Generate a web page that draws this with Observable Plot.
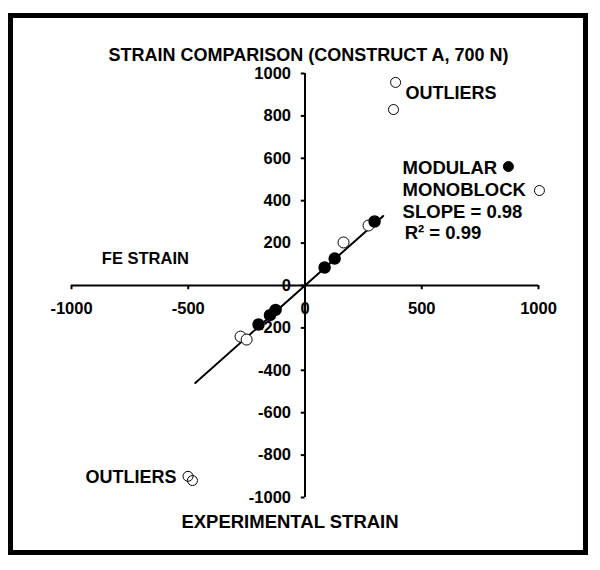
<!DOCTYPE html>
<html>
<head>
<meta charset="utf-8">
<script src="https://cdn.jsdelivr.net/npm/d3@7"></script>
<script src="https://cdn.jsdelivr.net/npm/@observablehq/plot@0.6"></script>
<style>
  html, body { margin: 0; padding: 0; background: white; }
  #wrap { position: relative; width: 600px; height: 570px; }
  #frame { position: absolute; left: 8px; top: 13px; width: 580px; height: 542px; box-sizing: border-box; border: 5px solid #000; pointer-events: none; }
</style>
</head>
<body>
<div id="wrap"><div id="frame"></div></div>
<script>
// ---- data ----
const title = "STRAIN COMPARISON (CONSTRUCT A, 700 N)";
const xLabel = "EXPERIMENTAL STRAIN";
const yLabel = "FE STRAIN";
const xTicks = [-1000, -500, 0, 500, 1000];
const yTicks = [-1000, -800, -600, -400, -200, 0, 200, 400, 600, 800, 1000];

// Modular (filled) points: experimental (x), FE (y)
const modularX = [84, 127, -126, -150, -199, 298];
const modularY = [85, 127, -115, -140, -184, 302];

// Monoblock (open) points
const monoblockX = [165, 272, -276, -250];
const monoblockY = [203, 283, -241, -255];

// Outliers (open)
const outlierX = [388, 379, -501, -482];
const outlierY = [958, 830, -900, -920];

// Trend line end points (slope 0.98)
const fitX = [-470, 335];
const fitY = [-460, 328];

const fitText = ["SLOPE = 0.98", "R\u00B2 = 0.99"];
const seriesNames = ["MODULAR", "MONOBLOCK"];
const outlierName = "OUTLIERS";

// ---- build tables ----
const modular = modularX.map((x, i) => ({x, y: modularY[i]}));
const monoblock = monoblockX.map((x, i) => ({x, y: monoblockY[i]}));
const outliers = outlierX.map((x, i) => ({x, y: outlierY[i]}));
const fit = fitX.map((x, i) => ({x, y: fitY[i]}));

const font = "Liberation Sans, Arial, sans-serif";
const bold = {fontWeight: "bold", fontFamily: font, fill: "#000"};

const legendText = [
  {t: seriesNames[0], x: 418, y: 552},
  {t: seriesNames[1], x: 418, y: 448},
  {t: fitText[0], x: 418, y: 344},
  {t: fitText[1], x: 427, y: 245}
];
const legendMarks = [
  {x: 871, y: 561, filled: true},
  {x: 1004, y: 448, filled: false}
];
const outlierLabels = [
  {t: outlierName, x: 430, y: 906},
  {t: outlierName, x: -940, y: -906}
];

const chart = Plot.plot({
  width: 600,
  height: 570,
  marginLeft: 71,
  marginRight: 62,
  marginTop: 73,
  marginBottom: 73,
  x: {domain: [-1000, 1000], axis: null},
  y: {domain: [-1000, 1000], axis: null},
  style: {fontFamily: font, background: "transparent", overflow: "visible"},
  marks: [
    // axes through origin
    Plot.ruleY([0], {x1: -1000, x2: 1000, stroke: "#000", strokeWidth: 2}),
    Plot.ruleX([0], {y1: -1000, y2: 1000, stroke: "#000", strokeWidth: 2}),
    Plot.ruleX(xTicks, {x: d => d, y1: 0, y2: -20, stroke: "#000", strokeWidth: 2}),
    Plot.ruleY(yTicks, {y: d => d, x1: 0, x2: -16, stroke: "#000", strokeWidth: 2}),
    Plot.text(xTicks, {x: d => d, y: 0, dy: 23, text: d => String(d), fontSize: 16.5, ...bold}),
    Plot.text(yTicks, {x: 0, y: d => d, dx: -14, textAnchor: "end", text: d => String(d), fontSize: 16.5, ...bold}),
    // trend line
    Plot.line(fit, {x: "x", y: "y", stroke: "#000", strokeWidth: 2}),
    // points
    Plot.dot(monoblock, {x: "x", y: "y", r: 5.5, fill: "#fff", stroke: "#000", strokeWidth: 1}),
    Plot.dot(modular, {x: "x", y: "y", r: 5.5, fill: "#000", stroke: "#000"}),
    Plot.dot(outliers, {x: "x", y: "y", r: 5, fill: "none", stroke: "#000", strokeWidth: 1}),
    // legend-like annotations
    Plot.dot(legendMarks, {x: "x", y: "y", r: 5, fill: d => d.filled ? "#000" : "#fff", stroke: "#000", strokeWidth: 1}),
    Plot.text(legendText, {x: "x", y: "y", text: "t", textAnchor: "start", fontSize: 18.5, ...bold}),
    Plot.text(outlierLabels, {x: "x", y: "y", text: "t", textAnchor: "start", fontSize: 18, ...bold, style: "letter-spacing: 0.8px"}),
    // titles
    Plot.text([title], {frameAnchor: "top", dx: 3.5, dy: -25, text: d => d, fontSize: 18, ...bold}),
    Plot.text([yLabel], {x: -870, y: 125, text: d => d, textAnchor: "start", fontSize: 16.5, ...bold}),
    Plot.text([xLabel], {frameAnchor: "bottom", dx: -15, dy: 30, text: d => d, fontSize: 18.5, ...bold})
  ]
});
chart.style.position = "absolute";
chart.style.left = "0px";
chart.style.top = "0px";
document.getElementById("wrap").insertBefore(chart, document.getElementById("frame"));
</script>
</body>
</html>
